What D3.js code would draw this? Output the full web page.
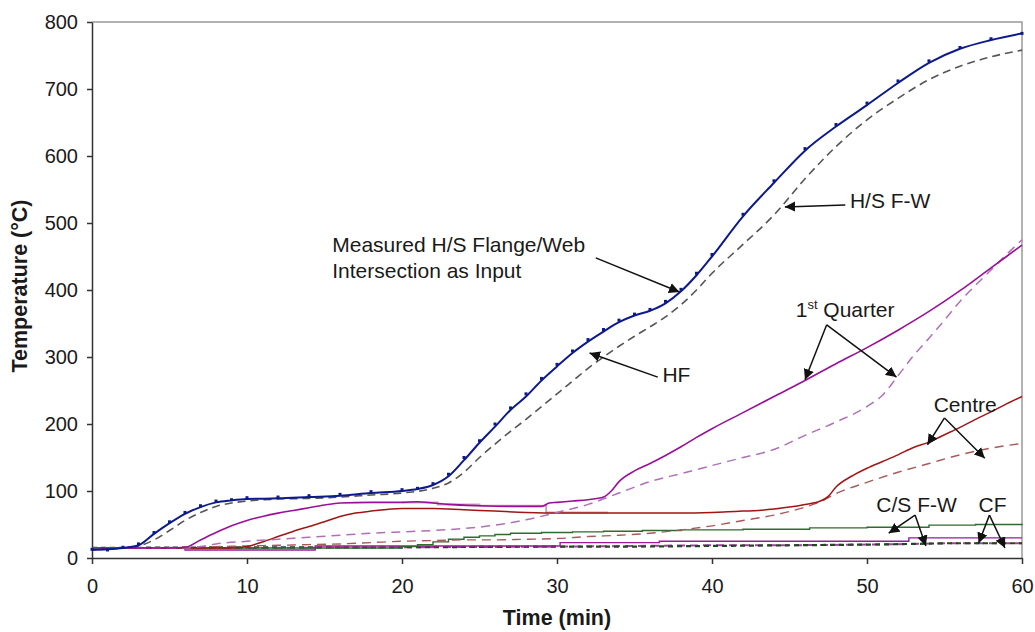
<!DOCTYPE html>
<html>
<head>
<meta charset="utf-8">
<script src="https://cdn.jsdelivr.net/npm/d3@7"></script>
<style>
  body { margin: 0; background: #fff; }
  text { font-family: "Liberation Sans", Arial, sans-serif; fill: #1a1a1a; }
  .axis text { font-size: 20px; }
  .axis path, .axis line { stroke: #333; stroke-width: 1.5; }
  .titulo { font-size: 21.5px; font-weight: bold; }
  .nota { font-size: 21px; }
</style>
</head>
<body>
<div id="grafico"></div>
<script>
// ---- datos ----
// H/S flange-web, HF (linea azul)
const tHF = [0,1,2,3,4,5,6,7,8,9,10,12,14,16,18,20,21,22,23,24,25,26,27,28,29,30,31,32,33,34,35,36,37,38,39,40,42,44,46,48,50,52,54,56,58,60]
const vHF = [12,13,15,19,36,52,66,76,83,86,88,89,91,93,97,100,103,109,122,146,172,196,221,241,265,286,306,323,338,352,362,369,380,398,422,450,510,560,608,644,676,709,739,760,773,783]
// medido H/S flange/web (marcadores)
const vMedido = [13,12,16,21,38,54,68,78,85,87,90,91,93,95,99,102,104,111,125,150,175,200,224,245,268,289,309,326,341,355,364,371,383,401,425,453,513,563,611,647,679,712,742,762,775,783]
// H/S F-W prediccion (gris a trazos)
const tHSFW = [0,2,3,4,5,6,7,8,9,10,12,14,16,18,20,22,23,24,25,26,27,28,29,30,31,32,33,34,35,36,37,38,39,40,42,44,46,48,50,52,54,56,58,60]
const vHSFW = [15,15,18,27,41,56,68,77,82,85,88,89,91,94,97,104,112,128,150,170,189,207,226,245,264,283,300,316,331,345,360,378,400,425,468,512,566,614,654,686,714,734,748,758]
// 1st Quarter medido
const tQ1 = [0,5,6,7,8,9,10,11,12,13,14,15,16,18,20,21,22,23,25,27,29,29.5,30,31,32,33,33.5,34,35,36,37,38,39,40,42,44,46,48,50,52,54,56,58,60]
const vQ1 = [15,15,16,27,38,48,56,62,67,71,75,79,82,83,83,84,82,80,78,77,77,82,83,85,87,91,100,114,130,141,153,166,180,193,217,241,265,290,314,340,368,399,433,467]
// 1st Quarter prediccion
const tQ1p = [0,6,7,8,10,12,14,16,18,20,22,24,26,28,30,32,34,36,38,40,42,44,46,48,50,51,52,53,54,55,56,57,58,59,60]
const vQ1p = [15,15,17,21,25,28,31,34,37,39,41,44,49,57,68,80,97,114,126,138,150,162,183,203,226,243,272,302,328,355,383,407,430,453,475]
// Centre medido
const tCen = [0,9,10,11,12,13,14,15,16,17,18,20,22,24,26,28,30,32,34,36,38,40,41,42,43,44,45,46,47,47.5,48,49,50,51,52,53,54,55,56,57,58,59,60]
const vCen = [15,15,17,24,32,40,47,54,62,67,70,74,74,72,70,68,67,67,67,67,67,68,69,70,71,73,76,80,85,92,106,122,134,144,154,165,173,184,195,207,218,230,241]
// Centre prediccion
const tCenp = [0,6,8,10,12,14,16,18,20,22,24,26,28,30,32,34,36,38,40,42,44,46,47,48,50,52,54,56,58,60]
const vCenp = [15,16,17,18,19,20,21,23,25,26,27,27,28,29,32,34,37,42,48,56,64,76,84,96,113,128,141,154,164,171]
// C/S F-W medido (escalones)
const tCS = [0,20,21,22,23,24,25,26,27,29,31,33,35.5,38,42,46.3,50,54,57,60]
const vCS = [15,17,20,24,28,31,33,35,37,38,39,40,41,42,43,45,46,49,50,51]
// C/S F-W prediccion
const tCSp = [0,10,20,30,35,40,45,50,53,55,60]
const vCSp = [15,16,16,17,17,18,19,20,21,22,22]
// CF medido (escalones)
const tCF = [0,6,14.4,30.2,36.6,52.7,60]
const vCF = [15,12,18,23,25,30,30]
// CF prediccion
const tCFp = [0,10,20,30,35,40,45,50,53,55,60]
const vCFp = [15,15,16,17,18,19,19,20,21,22,22]
// linea tenue
const tTenue = [20,22.3,25,29.3,33.3]
const vTenue = [83,80,78,68,68]

const yTicks = [0,100,200,300,400,500,600,700,800]
const xTicks = [0,10,20,30,40,50,60]

// notas: [t, temperatura]
const notas = [
  { texto: "H/S F-W", pos: [48.9, 522] },
  { texto: "HF", pos: [36.8, 263] },
  { texto: "Measured H/S Flange/Web", pos: [15.5, 457] },
  { texto: "Intersection as Input", pos: [15.5, 418] },
  { texto: "Centre", pos: [54.3, 218] },
  { texto: "C/S F-W", pos: [50.6, 69] },
  { texto: "CF", pos: [57.2, 69] },
]
const flechas = [
  [[48.6, 527], [44.7, 524]],
  [[36.5, 270], [32.1, 306]],
  [[32.5, 448], [37.9, 397]],
  [[47.4, 348], [46.0, 266]],
  [[47.4, 348], [51.9, 270]],
  [[55.0, 209], [53.9, 169]],
  [[55.0, 209], [57.6, 149]],
  [[53.1, 64], [51.4, 37]],
  [[53.1, 64], [53.8, 18]],
  [[57.9, 64], [57.2, 22]],
  [[57.9, 64], [58.9, 15]],
]

// ---- dibujo ----
const anchoTotal = 1035
const altoTotal = 632
const margins = { top: 22, right: 13, bottom: 74, left: 92 }
const ancho = anchoTotal - margins.left - margins.right
const alto = altoTotal - margins.top - margins.bottom

const svg = d3.select("#grafico")
  .append("svg")
  .attr("width", anchoTotal)
  .attr("height", altoTotal)

svg.append("defs").append("marker")
  .attr("id", "punta")
  .attr("viewBox", "0 0 10 10")
  .attr("refX", 10).attr("refY", 5)
  .attr("markerWidth", 7).attr("markerHeight", 7)
  .attr("markerUnits", "strokeWidth")
  .attr("orient", "auto")
  .append("path")
  .attr("d", "M0,0 L10,5 L0,10 z")
  .attr("fill", "#111")

const g = svg.append("g")
  .attr("transform", `translate(${margins.left}, ${margins.top})`)

const x = d3.scaleLinear().domain([0, 60]).range([0, ancho])
const y = d3.scaleLinear().domain([0, 800]).range([alto, 0])

// marco superior y derecho
g.append("path")
  .attr("d", `M0,0 H${ancho} V${alto}`)
  .attr("fill", "none")
  .attr("stroke", "#999")
  .attr("stroke-width", 1.5)

const xAxisGroup = g.append("g")
  .attr("class", "axis")
  .attr("transform", `translate(0, ${alto})`)
  .call(d3.axisBottom(x).tickValues(xTicks).tickSize(6).tickSizeOuter(0).tickPadding(15))
const yAxisGroup = g.append("g")
  .attr("class", "axis")
  .call(d3.axisLeft(y).tickValues(yTicks).tickSize(5).tickSizeOuter(0).tickPadding(9))

g.append("text")
  .attr("class", "titulo")
  .attr("x", ancho / 2)
  .attr("y", alto + 67)
  .attr("text-anchor", "middle")
  .text("Time (min)")

g.append("text")
  .attr("class", "titulo")
  .attr("transform", `translate(${-65}, ${alto / 2 - 4}) rotate(-90)`)
  .attr("text-anchor", "middle")
  .text("Temperature (°C)")

const zip = (ts, vs) => ts.map((t, i) => [t, vs[i]])

const series = [
  { d: zip(tTenue, vTenue), color: "#c9a3bb", w: 2, dash: null, curva: d3.curveStepAfter },
  { d: zip(tCFp, vCFp), color: "#a040a0", w: 2, dash: "8,5", curva: d3.curveLinear },
  { d: zip(tCSp, vCSp), color: "#1f4a1f", w: 2.2, dash: "5,4", curva: d3.curveLinear },
  { d: zip(tCF, vCF), color: "#9a1a9a", w: 1.4, dash: null, curva: d3.curveStepAfter },
  { d: zip(tCS, vCS), color: "#2f6a2f", w: 1.4, dash: null, curva: d3.curveStepAfter },
  { d: zip(tCenp, vCenp), color: "#a85a5a", w: 1.4, dash: "9,6", curva: d3.curveMonotoneX },
  { d: zip(tCen, vCen), color: "#a31515", w: 1.5, dash: null, curva: d3.curveMonotoneX },
  { d: zip(tQ1p, vQ1p), color: "#b070b8", w: 1.5, dash: "9,6", curva: d3.curveMonotoneX },
  { d: zip(tQ1, vQ1), color: "#9a0f9a", w: 1.6, dash: null, curva: d3.curveMonotoneX },
  { d: zip(tHSFW, vHSFW), color: "#555", w: 1.6, dash: "8,5", curva: d3.curveMonotoneX },
  { d: zip(tHF, vHF), color: "#0d1a8c", w: 2, dash: null, curva: d3.curveMonotoneX },
]

series.forEach((s) => {
  g.append("path")
    .datum(s.d)
    .attr("fill", "none")
    .attr("stroke", s.color)
    .attr("stroke-width", s.w)
    .attr("stroke-dasharray", s.dash)
    .attr("d", d3.line().x((d) => x(d[0])).y((d) => y(d[1])).curve(s.curva))
})

// marcadores del medido
g.append("g")
  .selectAll("rect")
  .data(zip(tHF, vMedido))
  .enter()
  .append("rect")
  .attr("x", (d) => x(d[0]) - 1.5)
  .attr("y", (d) => y(d[1]) - 1.5)
  .attr("width", 3)
  .attr("height", 3)
  .attr("fill", "#0d1a8c")

// flechas
g.append("g")
  .selectAll("line")
  .data(flechas)
  .enter()
  .append("line")
  .attr("x1", (d) => x(d[0][0]))
  .attr("y1", (d) => y(d[0][1]))
  .attr("x2", (d) => x(d[1][0]))
  .attr("y2", (d) => y(d[1][1]))
  .attr("stroke", "#111")
  .attr("stroke-width", 1.5)
  .attr("marker-end", "url(#punta)")

// textos
g.append("g")
  .selectAll("text")
  .data(notas)
  .enter()
  .append("text")
  .attr("class", "nota")
  .attr("x", (d) => x(d.pos[0]))
  .attr("y", (d) => y(d.pos[1]))
  .text((d) => d.texto)

const q = g.append("text")
  .attr("class", "nota")
  .attr("x", x(45.4))
  .attr("y", y(360))
q.append("tspan").text("1")
q.append("tspan").attr("dy", -8).attr("font-size", 13).text("st")
q.append("tspan").attr("dy", 8).text(" Quarter")
</script>
</body>
</html>
